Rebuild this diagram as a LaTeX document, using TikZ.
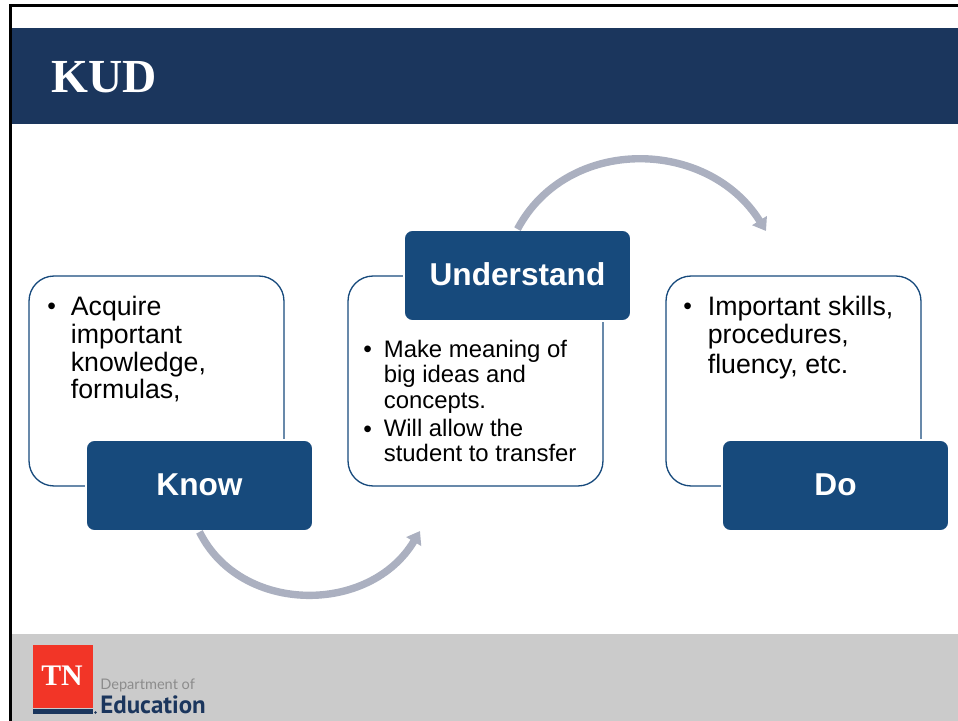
\documentclass[tikz,border=0pt]{standalone}
\usepackage{fontspec}
\setmainfont{Liberation Sans}
\newfontfamily\titlefont{Liberation Serif}
\newfontfamily\logofont{PT Sans}
\newfontfamily\deptfont{Lato}
\usetikzlibrary{arrows.meta,positioning}
\definecolor{headnavy}{HTML}{1B365D}
\definecolor{boxblue}{HTML}{174A7C}
\definecolor{arcgrey}{HTML}{ABB0C0}
\definecolor{footgrey}{HTML}{CBCBCB}
\definecolor{tnred}{HTML}{F23527}
\tikzset{
  panelbox/.style={draw=boxblue,line width=0.75pt,rounded corners=0.5cm,minimum width=5.1cm,minimum height=4.2cm,inner sep=0pt},
  labelbox/.style={fill=boxblue,draw=white,line width=1pt,rounded corners=0.17cm,minimum width=4.54cm,minimum height=1.82cm,inner sep=0pt,text=white,text depth=1.1pt,font=\fontsize{18}{20}\selectfont\bfseries},
  bodytext/.style={anchor=north west,inner sep=0pt,align=left,font=\fontsize{15.2}{15.6}\selectfont},
  midtext/.style={anchor=north west,inner sep=0pt,align=left,font=\fontsize{13.6}{14.4}\selectfont},
  dotmark/.style={anchor=base west,inner sep=0pt,font=\fontsize{14}{15}\selectfont},
  arcline/.style={draw=arcgrey,line width=4.2pt,-{Triangle[length=7pt,width=9.5pt]}}
}
\begin{document}
\begin{tikzpicture}[x=0.02cm,y=-0.02cm]
\useasboundingbox (0,0) rectangle (958,721);
\fill[footgrey] (11,634) rectangle (958,721);
\fill[headnavy] (11,28) rectangle (958,124);
\draw[line width=1.2pt] (10.5,721) -- (10.5,5.5) -- (958,5.5);
\node[anchor=west,inner sep=0pt,text=white,font=\titlefont\fontsize{27}{28}\selectfont\bfseries] (title) at (51,77) {KUD};

\node[panelbox] (knowpanel) at (156.5,381) {};
\node[panelbox] (understandpanel) at (475.5,381) {};
\node[panelbox] (dopanel) at (793.5,381) {};

\node[labelbox] (know) at (199.5,485.5) {Know};
\node[labelbox] (understand) at (517.5,275.5) {Understand};
\node[labelbox] (do) at (835.5,485.5) {Do};

\coordinate (understandend) at (766,231);
\coordinate (knowend) at (420,531);
\draw[arcline] (understand.north) .. controls +(50,-94) and +(-58,-93) .. (understandend);
\draw[arcline] (know.south) .. controls +(41,83) and +(-50,84) .. (knowend);

\node[dotmark] (knowdot) at (47,314) {\textbullet};
\node[bodytext] (knowtext) at (70.5,296) {Acquire\\[0.2pt]important\\[0.2pt]knowledge,\\[0.2pt]formulas,};
\node[dotmark] (meaningdot) at (363,357) {\textbullet};
\node[midtext] (meaningtext) at (383.5,340) {Make meaning of\\big ideas and\\concepts.};
\node[dotmark] (transferdot) at (363,437) {\textbullet};
\node[midtext] (transfertext) at (383.5,419) {Will allow the\\student to transfer};
\node[dotmark] (dodot) at (683,314) {\textbullet};
\node[bodytext] (dotext) at (707.5,296) {Important skills,\\[0.2pt]procedures,\\[1.5pt]fluency, etc.};

\fill[tnred] (33,645) rectangle (93,708);
\fill[headnavy] (33,709) rectangle (93,714);
\fill[headnavy] (95.5,712.5) circle (1.3);
\node[inner sep=0pt,text=white,font=\titlefont\fontsize{17}{18}\selectfont\bfseries] (tn) at (62,676) {TN};
\node[anchor=base west,inner sep=0pt,text=black!45,font=\deptfont\fontsize{8.3}{10}\selectfont] (dept) at (100,689) {Department of};
\node[anchor=base west,inner sep=0pt,text=headnavy,font=\logofont\fontsize{14.2}{16}\selectfont\bfseries] (edu) at (100,713) {Education};
\end{tikzpicture}
\end{document}
